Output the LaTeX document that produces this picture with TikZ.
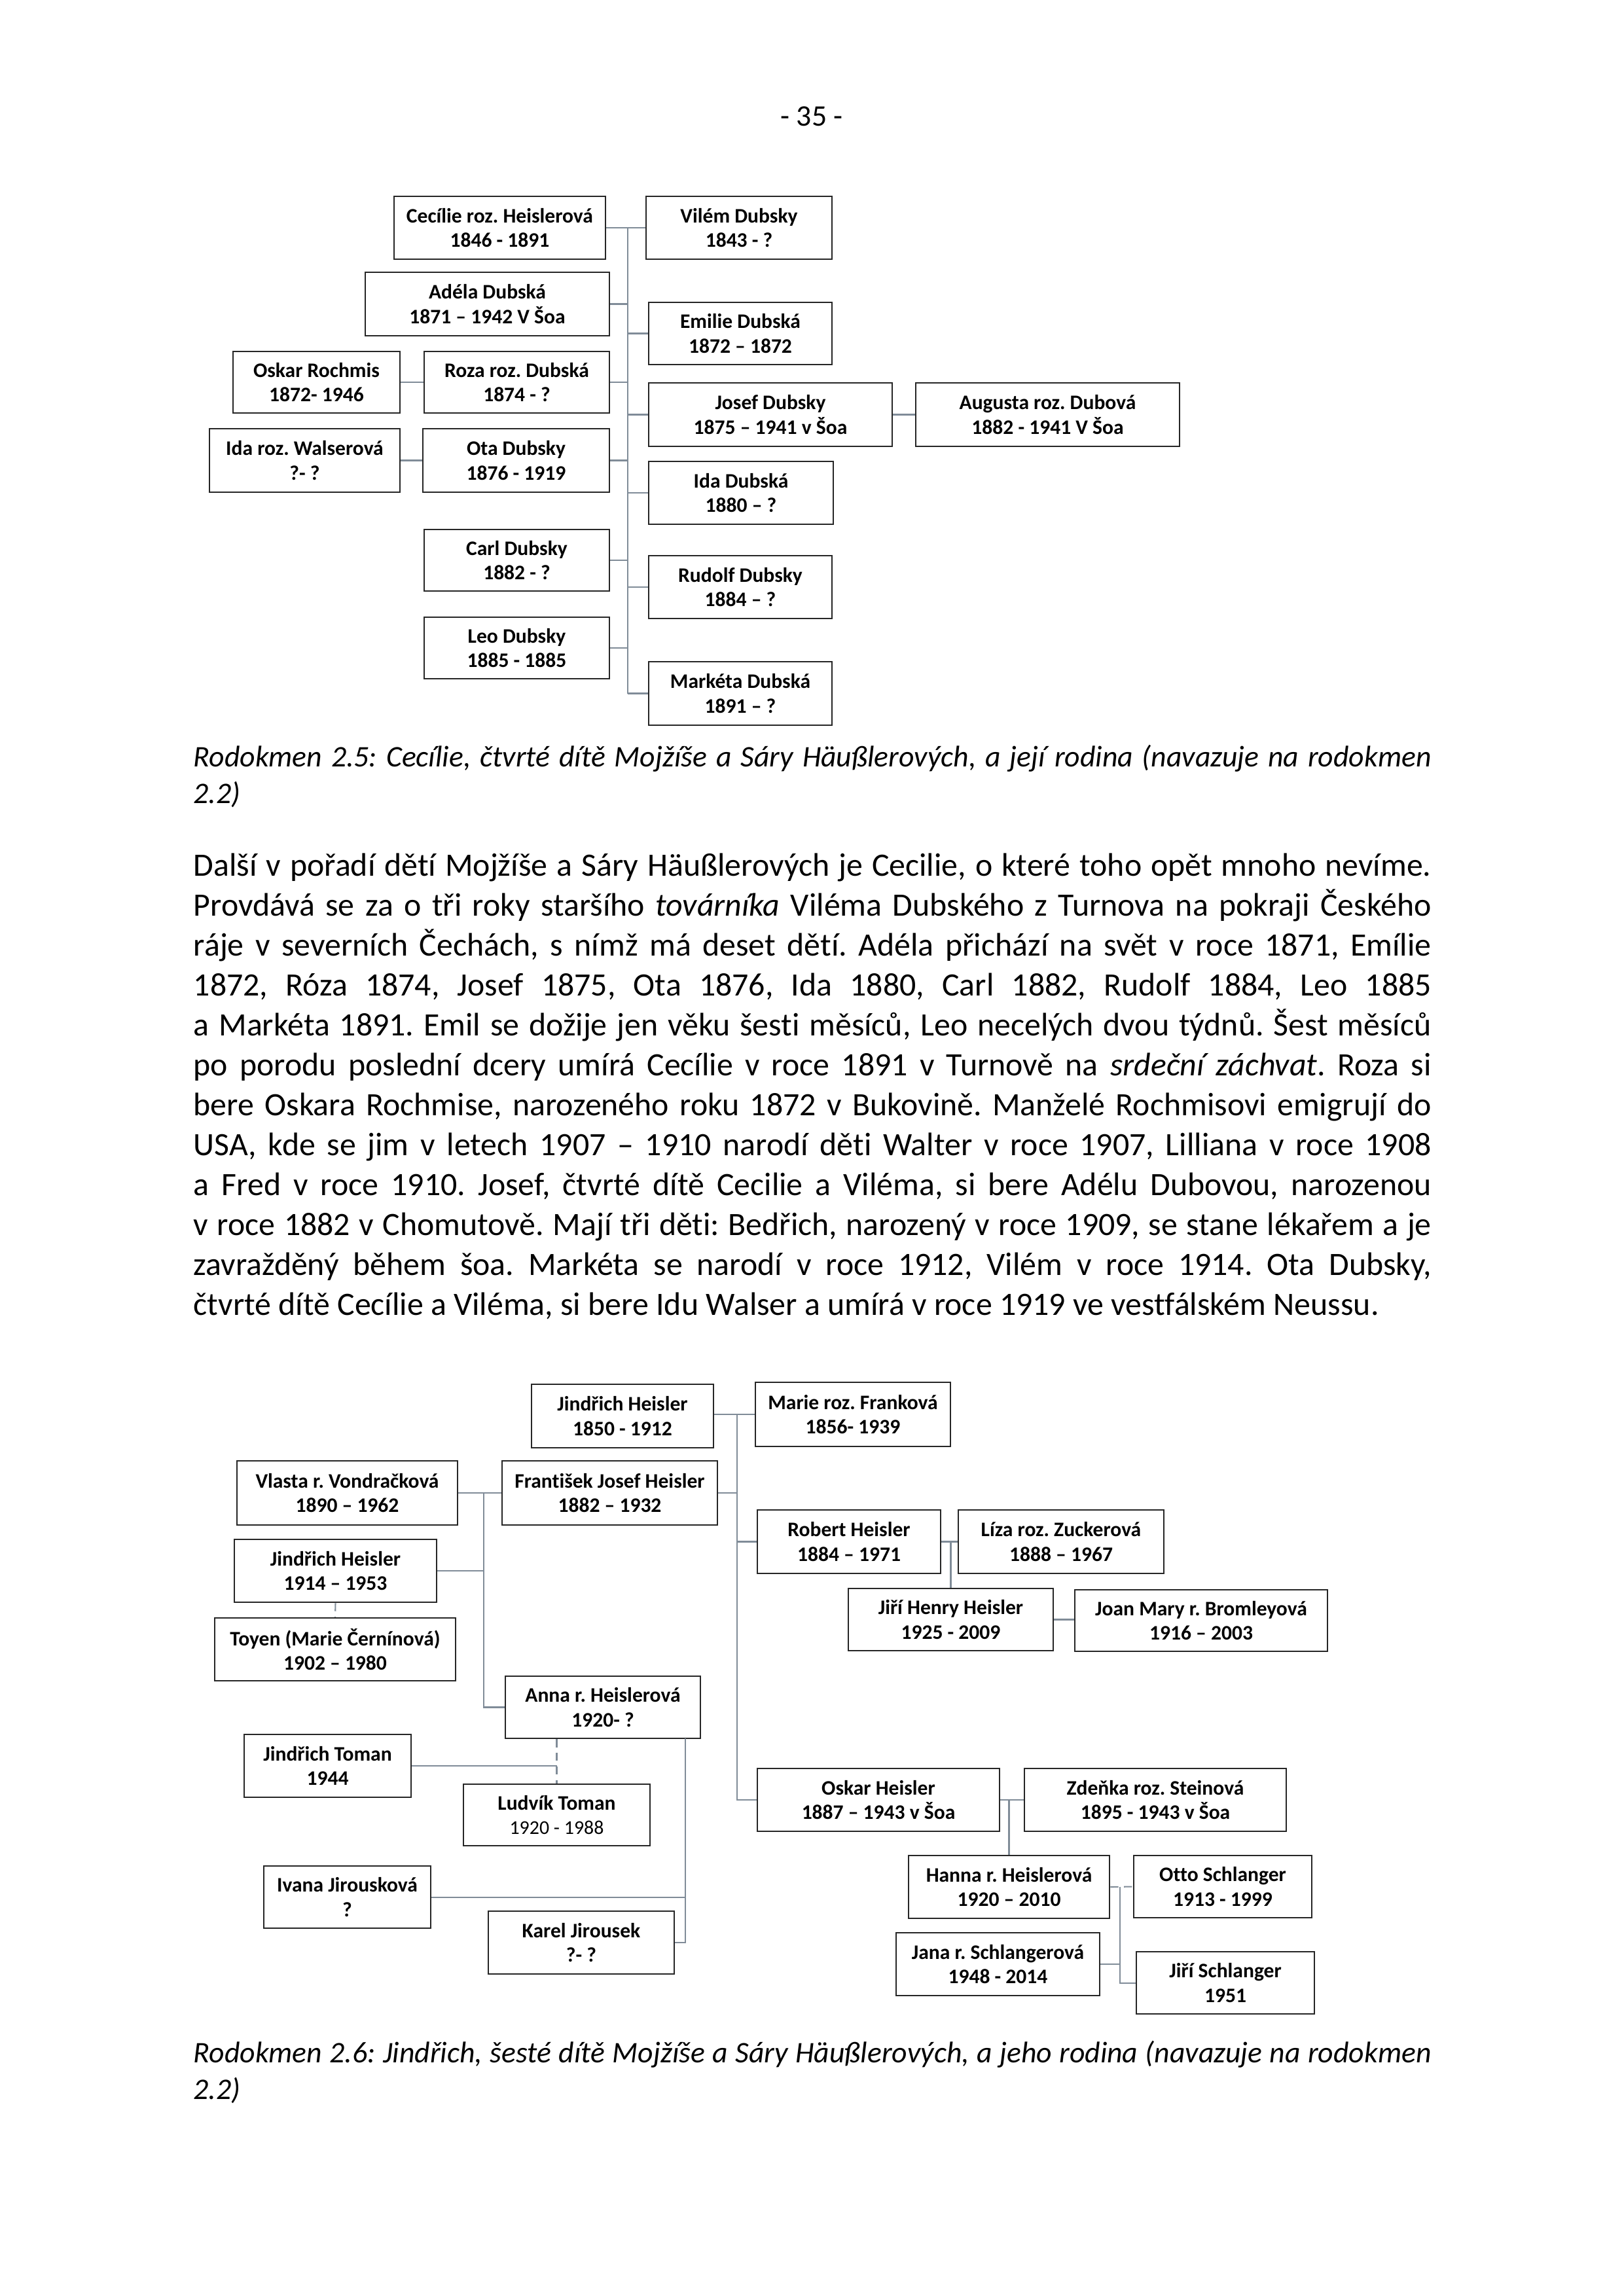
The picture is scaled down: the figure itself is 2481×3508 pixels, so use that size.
\documentclass[tikz,border=0pt]{standalone}
\usepackage{fontspec}
\setmainfont{Carlito}[Ligatures=NoCommon]
\usepackage{tikz}
\usetikzlibrary{calc}
\hyphenpenalty=10000
\exhyphenpenalty=10000
\frenchspacing
\definecolor{cLine}{RGB}{128,140,152}
\tikzset{
	person/.style   ={rectangle, draw=black!85, line width=0.6pt, fill=white, align=center, inner sep=0pt, font=\fontsize{7.6}{9}\selectfont\bfseries},
	wh/.style 2 args={minimum width=#1*0.2409pt, minimum height=#2*0.2409pt},
	link/.style     ={draw=cLine, line width=0.5pt},
	dlink/.style    ={link, dash pattern=on 3pt off 2pt},
	% page text
	capt/.style     ={anchor=north west, inner sep=0pt, text width=455.5pt, align=justify, font=\fontsize{11}{13.4}\selectfont\itshape},
	para/.style     ={anchor=north west, inner sep=0pt, text width=455.5pt, align=justify, font=\fontsize{12}{14.7}\selectfont},
}

\begin{document}
\begin{tikzpicture}[x=0.0846667mm, y=-0.0846667mm]
	\useasboundingbox (0,0) rectangle (2481,3508);
	\node[anchor=base, inner sep=0pt, font=\fontsize{11}{13.4}\selectfont] (pagenum) at (1240,192) {- 35 -};

	% Rodokmen 2.5
	\node[person, wh={323}{96}] (cecilie) at (763.5,348) {Cecílie roz. Heislerová\\1846 - 1891};
	\node[person, wh={284}{96}] (vilem) at (1129,348) {Vilém Dubsky\\1843 - ?};
	\node[person, wh={373}{97}] (adela) at (744.5,464.5) {Adéla Dubská\\1871 – 1942 V Šoa};
	\node[person, wh={280}{95}] (emilie) at (1131,509.5) {Emilie Dubská\\1872 – 1872};
	\node[person, wh={255}{94}] (oskar) at (483.5,584) {Oskar Rochmis\\1872- 1946};
	\node[person, wh={283}{94}] (roza) at (789.5,584) {Roza roz. Dubská\\1874 - ?};
	\node[person, wh={372}{97}] (josef) at (1177,633.5) {Josef Dubsky\\1875 – 1941 v Šoa};
	\node[person, wh={403}{97}] (augusta) at (1600.5,633.5) {Augusta roz. Dubová\\1882 - 1941 V Šoa};
	\node[person, wh={291}{97}] (idaw) at (465.5,703.5) {Ida roz. Walserová\\?- ?};
	\node[person, wh={285}{97}] (ota) at (788.5,703.5) {Ota Dubsky\\1876 - 1919};
	\node[person, wh={282}{96}] (idad) at (1132,753) {Ida Dubská\\1880 – ?};
	\node[person, wh={283}{94}] (carl) at (789.5,856) {Carl Dubsky\\1882 - ?};
	\node[person, wh={280}{96}] (rudolf) at (1131,897) {Rudolf Dubsky\\1884 – ?};
	\node[person, wh={283}{94}] (leo) at (789.5,990) {Leo Dubsky\\1885 - 1885};
	\node[person, wh={280}{97}] (marketa) at (1131,1059.5) {Markéta Dubská\\1891 – ?};

	\coordinate (trunkA) at (959,348);
	\draw[link] (cecilie.east) -- (vilem.west);
	\draw[link] (trunkA) -- (marketa.west -| trunkA);
	\foreach \n in {adela,roza,ota,carl,leo} \draw[link] (\n.east) -- (\n.east -| trunkA);
	\foreach \n in {emilie,josef,idad,rudolf,marketa} \draw[link] (\n.west) -- (\n.west -| trunkA);
	\draw[link] (oskar.east) -- (roza.west);
	\draw[link] (idaw.east) -- (ota.west);
	\draw[link] (josef.east) -- (augusta.west);

	\node[capt] (cap1) at (295,1132) {\strut Rodokmen 2.5: Cecílie, čtvrté dítě Mojžíše a Sáry Häußlerových, a její rodina (navazuje na rodokmen\linebreak
		2.2)};

	\node[para] (body) at (295,1295) {\strut Další v pořadí dětí Mojžíše a Sáry Häußlerových je Cecilie, o které toho opět mnoho nevíme.\linebreak
		Provdává se za o tři roky staršího \textit{továrníka} Viléma Dubského z Turnova na pokraji Českého\linebreak
		ráje v severních Čechách, s nímž má deset dětí. Adéla přichází na svět v roce 1871, Emílie\linebreak
		1872, Róza 1874, Josef 1875, Ota 1876, Ida 1880, Carl 1882, Rudolf 1884, Leo 1885\linebreak
		a Markéta 1891. Emil se dožije jen věku šesti měsíců, Leo necelých dvou týdnů. Šest měsíců\linebreak
		po porodu poslední dcery umírá Cecílie v roce 1891 v Turnově na \textit{srdeční záchvat}. Roza si\linebreak
		bere Oskara Rochmise, narozeného roku 1872 v Bukovině. Manželé Rochmisovi emigrují do\linebreak
		USA, kde se jim v letech 1907 – 1910 narodí děti Walter v roce 1907, Lilliana v roce 1908\linebreak
		a Fred v roce 1910. Josef, čtvrté dítě Cecilie a Viléma, si bere Adélu Dubovou, narozenou\linebreak
		v roce 1882 v Chomutově. Mají tři děti: Bedřich, narozený v roce 1909, se stane lékařem a je\linebreak
		zavražděný během šoa. Markéta se narodí v roce 1912, Vilém v roce 1914. Ota Dubsky,\linebreak
		čtvrté dítě Cecílie a Viléma, si bere Idu Walser a umírá v roce 1919 ve vestfálském Neussu.};

	% Rodokmen 2.6
	\node[person, wh={278}{97}] (jindrich) at (951,2163.5) {Jindřich Heisler\\1850 - 1912};
	\node[person, wh={298}{98}] (marie) at (1303,2161) {Marie roz. Franková\\1856- 1939};
	\node[person, wh={337}{98}] (vlasta) at (530.5,2281) {Vlasta r. Vondračková\\1890 – 1962};
	\node[person, wh={329}{98}] (frantisek) at (931.5,2281) {František Josef Heisler\\1882 – 1932};
	\node[person, wh={280}{97}] (robert) at (1297,2355.5) {Robert Heisler\\1884 – 1971};
	\node[person, wh={314}{97}] (liza) at (1621,2355.5) {Líza roz. Zuckerová\\1888 – 1967};
	\node[person, wh={309}{96}] (jindrichml) at (512.5,2400) {Jindřich Heisler\\1914 – 1953};
	\node[person, wh={313}{95}] (jiri) at (1452.5,2474.5) {Jiří Henry Heisler\\1925 - 2009};
	\node[person, wh={386}{94}] (joan) at (1835,2476) {Joan Mary r. Bromleyová\\1916 – 2003};
	\node[person, wh={368}{96}] (toyen) at (512,2520) {Toyen (Marie Černínová)\\1902 – 1980};
	\node[person, wh={298}{95}] (anna) at (921,2608.5) {Anna r. Heislerová\\1920- ?};
	\node[person, wh={255}{96}] (jtoman) at (500.5,2698) {Jindřich Toman\\1944};
	\node[person, wh={285}{94}] (ludvik) at (850.5,2773) {Ludvík Toman\\{\mdseries\fontsize{7.2}{9}\selectfont 1920 - 1988}};
	\node[person, wh={370}{96}] (oskarh) at (1342,2750) {Oskar Heisler\\1887 – 1943 v Šoa};
	\node[person, wh={400}{96}] (zdenka) at (1765,2750) {Zdeňka roz. Steinová\\1895 - 1943 v Šoa};
	\node[person, wh={307}{96}] (hanna) at (1541.5,2883) {Hanna r. Heislerová\\1920 – 2010};
	\node[person, wh={272}{95}] (otto) at (1868,2882.5) {Otto Schlanger\\1913 - 1999};
	\node[person, wh={255}{95}] (ivana) at (530.5,2898.5) {Ivana Jirousková\\?};
	\node[person, wh={284}{96}] (karel) at (888,2968) {Karel Jirousek\\?- ?};
	\node[person, wh={311}{96}] (jana) at (1524.5,3001) {Jana r. Schlangerová\\1948 - 2014};
	\node[person, wh={272}{95}] (jiris) at (1872,3029.5) {Jiří Schlanger\\1951};

	\coordinate (trunkB) at (1126,2161);
	\coordinate (trunkV) at (739,2281);
	\coordinate (trunkN) at (1047,2656);
	\coordinate (trunkS) at (1711,2883);
	\draw[link] (jindrich.east |- marie.west) -- (marie.west);
	\draw[link] (trunkB) -- (oskarh.west -| trunkB) -- (oskarh.west);
	\draw[link] (frantisek.east) -- (frantisek.east -| trunkB);
	\draw[link] (robert.west) -- (robert.west -| trunkB);
	\draw[link] (robert.east) -- (liza.west);
	\draw[link] (robert.east -| jiri.north) -- (jiri.north);
	\draw[link] (jiri.east) -- (jiri.east -| joan.west);
	\draw[link] (vlasta.east) -- (frantisek.west);
	\draw[link] (trunkV) -- (anna.west -| trunkV) -- (anna.west);
	\draw[link] (jindrichml.east) -- (jindrichml.east -| trunkV);
	\draw[dlink] (jindrichml.south) -- (toyen.north);
	\draw[dlink] (anna.south -| ludvik.north) -- (ludvik.north);
	\draw[link] (jtoman.east) -- (jtoman.east -| ludvik.north);
	\draw[link] (trunkN) -- (karel.east -| trunkN) -- (karel.east);
	\draw[link] (ivana.east) -- (ivana.east -| trunkN);
	\draw[link] (oskarh.east) -- (zdenka.west);
	\draw[link] (oskarh.east -| hanna.north) -- (hanna.north);
	\draw[dlink] (hanna.east) -- (otto.west);
	\draw[link] (trunkS) -- (jiris.west -| trunkS) -- (jiris.west);
	\draw[link] (jana.east) -- (jana.east -| trunkS);

	\node[capt] (cap2) at (295,3112) {\strut Rodokmen 2.6: Jindřich, šesté dítě Mojžíše a Sáry Häußlerových, a jeho rodina (navazuje na rodokmen\linebreak
		2.2)};
\end{tikzpicture}
\end{document}
